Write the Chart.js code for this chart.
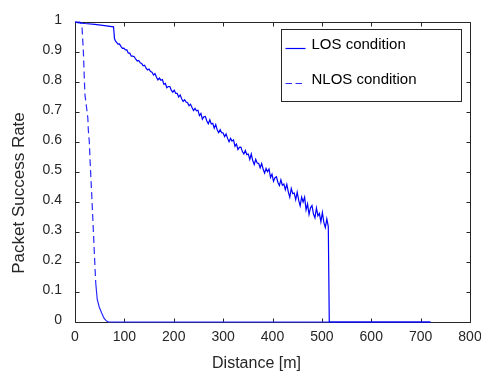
<!DOCTYPE html>
<html>
<head>
<meta charset="utf-8">
<script src="https://cdn.jsdelivr.net/npm/chart.js@4"></script>
<style>
  body { margin: 0; background: #fff; }
  canvas { display: block; }
</style>
</head>
<body>
<canvas id="chartPsr" width="481" height="375"></canvas>
<script>
const losDistance = [0, 5, 20, 40, 60, 78, 80, 82,
  84, 87, 90, 93, 96, 99, 102, 105, 108, 111, 114, 117, 120, 123, 126, 129, 132, 135, 138, 141, 144, 147,
  150, 153, 156, 159, 162, 165, 168, 171, 174, 177, 180, 183, 186, 189, 192, 195, 198, 201, 204, 207, 210,
  213, 216, 219, 222, 225, 228, 231, 234, 237, 240, 243, 246, 249, 252, 255, 258, 261, 264, 267, 270, 273,
  276, 279, 282, 285, 288, 291, 294, 297, 300, 303, 306, 309, 312, 315, 318, 321, 324, 327, 330, 333, 336,
  339, 342, 345, 348, 351, 354, 357, 360, 363, 366, 369, 372, 375, 378, 381, 384, 387, 390, 393, 396, 399,
  402, 405, 408, 411, 414, 417, 420, 423, 426, 429, 432, 435, 438, 441, 444, 447, 450, 453, 456, 459, 462,
  465, 468, 471, 474, 477, 480, 483, 486, 489, 492, 495, 498, 501, 504, 507, 510, 513, 515, 720];
const losRate = [1.0, 0.998, 0.995, 0.992, 0.988, 0.984, 0.945, 0.936,
  0.933, 0.926, 0.927, 0.919, 0.912, 0.913, 0.907, 0.907, 0.896, 0.896, 0.886, 0.886, 0.884, 0.876, 0.870,
  0.872, 0.864, 0.862, 0.854, 0.856, 0.846, 0.840,
  0.843, 0.835, 0.833, 0.823, 0.828, 0.816, 0.807, 0.813, 0.806, 0.808, 0.792, 0.795, 0.781, 0.785, 0.785,
  0.773, 0.766, 0.773, 0.762, 0.762, 0.750, 0.757, 0.744, 0.735, 0.741, 0.733, 0.731, 0.721, 0.726, 0.715,
  0.705, 0.712, 0.704, 0.706,
  0.688, 0.695, 0.676, 0.684, 0.685, 0.670, 0.661, 0.674, 0.660, 0.662, 0.646, 0.658, 0.641, 0.631, 0.641,
  0.631, 0.630, 0.618, 0.627, 0.612, 0.601, 0.612, 0.603, 0.607, 0.586, 0.593, 0.575, 0.582, 0.583, 0.568,
  0.560, 0.572, 0.558, 0.560,
  0.542, 0.560, 0.538, 0.525, 0.542, 0.530, 0.529, 0.514, 0.528, 0.510, 0.496, 0.512, 0.501, 0.510, 0.482,
  0.493, 0.469, 0.481, 0.484, 0.465, 0.455, 0.474, 0.456, 0.460, 0.441, 0.459,
  0.434, 0.416, 0.445, 0.428, 0.430, 0.408, 0.433, 0.406, 0.387, 0.416, 0.400, 0.416, 0.374, 0.394, 0.359,
  0.381, 0.388, 0.360, 0.347, 0.380, 0.354, 0.362, 0.334, 0.365, 0.332, 0.315, 0.344, 0.318, 0, 0];

const nlosDistance = [0, 10, 14, 17, 20, 23, 26, 27, 29, 31, 34, 37, 40, 42, 45, 49, 54, 59, 64, 68, 720];
const nlosRate = [1.0, 1.0, 0.99, 0.9, 0.76, 0.72, 0.68, 0.64, 0.6, 0.52, 0.42, 0.31, 0.2, 0.13, 0.076, 0.05,
  0.03, 0.012, 0.003, 0, 0];

const xTicks = [0, 100, 200, 300, 400, 500, 600, 700, 800];
const yTicks = [0, 0.1, 0.2, 0.3, 0.4, 0.5, 0.6, 0.7, 0.8, 0.9, 1];

const xTitle = 'Distance [m]';
const yTitle = 'Packet Success Rate';

const axisColor = '#262626';
const fontName = '"Liberation Sans", Arial, sans-serif';

const toPoints = (xs, ys) => xs.map((d, i) => ({x: d, y: ys[i]}));

// box + inward ticks on all four sides (matlab look)
const frame = {
  id: 'frame',
  beforeDatasetsDraw(chart) {
    const {ctx, chartArea: a, scales: {x, y}} = chart;
    const l = Math.round(a.left) + 0.5, r = Math.round(a.right) + 0.5;
    const t = Math.round(a.top) + 0.5, b = Math.round(a.bottom) + 0.5;
    ctx.save();
    ctx.strokeStyle = axisColor;
    ctx.lineWidth = 1;
    ctx.beginPath();
    ctx.rect(l, t, r - l, b - t);
    x.ticks.forEach(tk => {
      const px = Math.round(x.getPixelForValue(tk.value)) + 0.5;
      ctx.moveTo(px, b); ctx.lineTo(px, b - 4);
      ctx.moveTo(px, t); ctx.lineTo(px, t + 4);
    });
    y.ticks.forEach(tk => {
      const py = Math.round(y.getPixelForValue(tk.value)) + 0.5;
      ctx.moveTo(l, py); ctx.lineTo(l + 4, py);
      ctx.moveTo(r, py); ctx.lineTo(r - 4, py);
    });
    ctx.stroke();
    ctx.restore();
  },
  afterDraw(chart) {
    // axis titles sit a bit off-centre in the figure
    const {ctx, chartArea: a} = chart;
    ctx.save();
    ctx.fillStyle = axisColor;
    ctx.textAlign = 'center';
    ctx.textBaseline = 'middle';
    ctx.font = '16px ' + fontName;
    ctx.fillText(xTitle, (a.left + a.right) / 2 - 16, a.bottom + 42);
    ctx.translate(19, (a.top + a.bottom) / 2 + 21);
    ctx.rotate(-Math.PI / 2);
    ctx.font = '17px ' + fontName;
    ctx.fillText(yTitle, 0, 0);
    ctx.restore();
  }
};

const boxLegend = {
  id: 'boxLegend',
  afterDatasetsDraw(chart) {
    const {ctx, chartArea: a} = chart;
    const bx = Math.round(a.right) - 189 + 0.5, by = Math.round(a.top) + 7 + 0.5;
    ctx.save();
    ctx.fillStyle = '#fff';
    ctx.strokeStyle = axisColor;
    ctx.lineWidth = 1;
    ctx.fillRect(bx, by, 180, 72);
    ctx.strokeRect(bx, by, 180, 72);
    ctx.font = '15px ' + fontName;
    ctx.textBaseline = 'middle';
    chart.data.datasets.forEach((ds, i) => {
      const ly = by + 15 + i * 35;
      ctx.strokeStyle = ds.borderColor;
      ctx.lineWidth = 1.2;
      ctx.setLineDash(i === 0 ? [] : [6.5, 3.5]);
      ctx.beginPath();
      ctx.moveTo(bx + 4, ly + 4);
      ctx.lineTo(bx + 24, ly + 4);
      ctx.stroke();
      ctx.setLineDash([]);
      ctx.fillStyle = '#000';
      ctx.fillText(ds.label, bx + 30, ly);
    });
    ctx.restore();
  }
};

new Chart(document.getElementById('chartPsr'), {
  type: 'line',
  data: {
    datasets: [{
      label: 'LOS condition',
      data: toPoints(losDistance, losRate),
      borderColor: '#0000ff',
      borderWidth: 1.2,
      pointRadius: 0,
      tension: 0,
      clip: false
    }, {
      label: 'NLOS condition',
      data: toPoints(nlosDistance, nlosRate),
      borderColor: '#2a2aff',
      borderWidth: 1.2,
      borderDash: [7, 4],
      segment: {
        // tail of the curve looks solid in the figure
        borderDash: c => c.p0.parsed.y < 0.2 ? [] : [7, 4]
      },
      pointRadius: 0,
      tension: 0,
      clip: false
    }]
  },
  options: {
    responsive: false,
    animation: false,
    layout: { padding: { top: 22, right: 11, left: 0, bottom: 0 } },
    plugins: {
      legend: { display: false },
      tooltip: { enabled: false }
    },
    scales: {
      x: {
        type: 'linear',
        min: 0,
        max: 800,
        afterBuildTicks: s => { s.ticks = xTicks.map(v => ({value: v})); },
        afterFit: s => { s.height = 53; s.paddingLeft = 0; s.paddingRight = 0; },
        grid: { display: false, drawTicks: false },
        border: { display: false },
        ticks: {
          maxRotation: 0,
          padding: 7,
          color: axisColor,
          font: { family: fontName, size: 14 },
          callback: v => String(v)
        }
      },
      y: {
        min: 0,
        max: 1,
        afterBuildTicks: s => { s.ticks = yTicks.map(v => ({value: v})); },
        afterFit: s => { s.width = 75; s.paddingTop = 0; s.paddingBottom = 0; },
        grid: { display: false, drawTicks: false },
        border: { display: false },
        ticks: {
          padding: 13,
          labelOffset: -2,
          color: axisColor,
          font: { family: fontName, size: 14 },
          callback: v => String(v)
        }
      }
    }
  },
  plugins: [frame, boxLegend]
});
</script>
</body>
</html>
